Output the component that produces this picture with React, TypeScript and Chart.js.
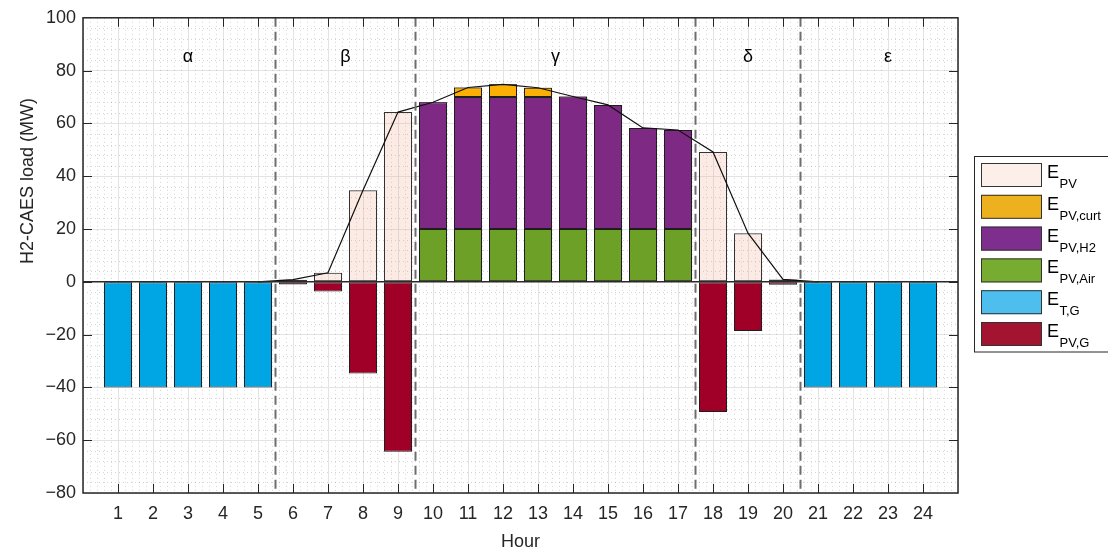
import React, { useEffect, useRef } from 'react';
import { Chart, registerables } from 'chart.js';

Chart.register(...registerables);

const FONT = '"Liberation Sans", Arial, Helvetica, sans-serif';
const TXT = '#262626';

const hours = [1, 2, 3, 4, 5, 6, 7, 8, 9, 10, 11, 12, 13, 14, 15, 16, 17, 18, 19, 20, 21, 22, 23, 24];

const ePV: (number | null)[] = [null, null, null, null, null, 0.8, 3.4, 34.7, 64.3, 68, 73.6, 74.8, 73.5, 70.2, 67, 58.3, 57.5, 49.2, 18.4, 0.9, null, null, null, null];
const ePVAir: (number | null)[] = [null, null, null, null, null, null, null, null, null, 20, 20, 20, 20, 20, 20, 20, 20, null, null, null, null, null, null, null];
const ePVH2: (number | null)[] = [null, null, null, null, null, null, null, null, null, 48, 50, 50, 50, 50.2, 47, 38.3, 37.5, null, null, null, null, null, null, null];
const ePVCurt: (number | null)[] = [null, null, null, null, null, null, null, null, null, null, 3.6, 4.8, 3.5, null, null, null, null, null, null, null, null, null, null, null];
const eTG: (number | null)[] = [-40, -40, -40, -40, -40, null, null, null, null, null, null, null, null, null, null, null, null, null, null, null, -40, -40, -40, -40];
const ePVG: (number | null)[] = [null, null, null, null, null, -1, -3.7, -34.7, -64.4, null, null, null, null, null, null, null, null, -49.3, -18.6, -1.1, null, null, null, null];
const pvCurve: (number | null)[] = [null, null, null, null, 0, 0.8, 3.4, 34.7, 64.3, 68, 73.6, 74.8, 73.5, 70.2, 67, 58.3, 57.5, 49.2, 18.4, 0.9, 0, null, null, null];

const yTicks = [-80, -60, -40, -20, 0, 20, 40, 60, 80, 100];
const sectionBounds = [5.5, 9.5, 17.5, 20.5];
const sectionLabels = ['α', 'β', 'γ', 'δ', 'ε'];
const sectionLabelX = [3, 7.5, 13.5, 19, 23];
const sectionLabelY = 85;

const legendItems = [
  { sub: 'PV', color: '#FCEEE8' },
  { sub: 'PV,curt', color: '#EDB120' },
  { sub: 'PV,H2', color: '#7E2F8E' },
  { sub: 'PV,Air', color: '#77AC30' },
  { sub: 'T,G', color: '#4DBEEE' },
  { sub: 'PV,G', color: '#A2142F' },
];

const xy = (arr: (number | null)[]) => arr.map((v, i) => ({ x: hours[i], y: v }));

const decor = {
  id: 'decor',
  beforeDatasetsDraw(chart: any) {
    const { ctx, chartArea: a, scales } = chart;
    const xs = scales.x, ys = scales.y;
    ctx.save();
    ctx.strokeStyle = 'rgba(0,0,0,0.17)';
    ctx.lineWidth = 1;
    ctx.setLineDash([1, 3]);
    for (let k = 0; k <= 125; k++) {
      if (k % 5 === 0) continue;
      const px = Math.round(xs.getPixelForValue(k / 5)) + 0.5;
      ctx.beginPath();
      ctx.moveTo(px, a.top);
      ctx.lineTo(px, a.bottom);
      ctx.stroke();
    }
    for (let v = -80; v <= 100; v += 4) {
      if (v % 20 === 0) continue;
      const py = Math.round(ys.getPixelForValue(v)) + 0.5;
      ctx.beginPath();
      ctx.moveTo(a.left, py);
      ctx.lineTo(a.right, py);
      ctx.stroke();
    }
    ctx.restore();
  },
  afterDatasetsDraw(chart: any) {
    const { ctx, chartArea: a, scales } = chart;
    const xs = scales.x, ys = scales.y;
    ctx.save();
    const y0 = ys.getPixelForValue(0);
    ctx.strokeStyle = '#2a2a2a';
    ctx.lineWidth = 1.5;
    ctx.beginPath();
    ctx.moveTo(a.left, y0);
    ctx.lineTo(a.right, y0);
    ctx.stroke();
    ctx.strokeStyle = '#6e6e6e';
    ctx.lineWidth = 2;
    ctx.setLineDash([9, 5]);
    sectionBounds.forEach((b) => {
      const px = xs.getPixelForValue(b);
      ctx.beginPath();
      ctx.moveTo(px, a.top);
      ctx.lineTo(px, a.bottom);
      ctx.stroke();
    });
    ctx.setLineDash([]);
    ctx.fillStyle = '#000';
    ctx.font = `18px ${FONT}`;
    ctx.textAlign = 'center';
    ctx.textBaseline = 'middle';
    sectionLabels.forEach((t, i) => {
      ctx.fillText(t, xs.getPixelForValue(sectionLabelX[i]), ys.getPixelForValue(sectionLabelY));
    });
    ctx.strokeStyle = '#262626';
    ctx.lineWidth = 1.5;
    ctx.strokeRect(a.left, a.top, a.right - a.left, a.bottom - a.top);
    ctx.lineWidth = 1;
    const tl = 9;
    hours.forEach((h) => {
      const px = Math.round(xs.getPixelForValue(h)) + 0.5;
      ctx.beginPath();
      ctx.moveTo(px, a.bottom);
      ctx.lineTo(px, a.bottom - tl);
      ctx.moveTo(px, a.top);
      ctx.lineTo(px, a.top + tl);
      ctx.stroke();
    });
    yTicks.forEach((v) => {
      if (v === -80 || v === 100) return;
      const py = Math.round(ys.getPixelForValue(v)) + 0.5;
      ctx.beginPath();
      ctx.moveTo(a.left, py);
      ctx.lineTo(a.left + tl, py);
      ctx.moveTo(a.right, py);
      ctx.lineTo(a.right - tl, py);
      ctx.stroke();
    });
    ctx.save();
    ctx.translate(28, 181);
    ctx.rotate(-Math.PI / 2);
    ctx.fillStyle = TXT;
    ctx.font = `18px ${FONT}`;
    ctx.textAlign = 'center';
    ctx.textBaseline = 'middle';
    ctx.fillText('H2-CAES load (MW)', 0, 0);
    ctx.restore();
    ctx.fillStyle = '#ffffff';
    ctx.fillRect(974.5, 156.5, 140, 195.5);
    ctx.strokeStyle = '#262626';
    ctx.lineWidth = 1;
    ctx.strokeRect(974.5, 156.5, 140, 195.5);
    legendItems.forEach((it, i) => {
      const top = 163 + i * 31.8;
      ctx.fillStyle = it.color;
      ctx.fillRect(981, top, 61, 24);
      ctx.strokeStyle = '#333';
      ctx.strokeRect(981.5, top + 0.5, 60, 23);
      ctx.fillStyle = '#000';
      ctx.textAlign = 'left';
      ctx.textBaseline = 'alphabetic';
      ctx.font = `18px ${FONT}`;
      ctx.fillText('E', 1047, top + 15);
      const w = ctx.measureText('E').width;
      ctx.font = `13px ${FONT}`;
      ctx.fillText(it.sub, 1047 + w + 0.5, top + 25);
    });
    ctx.restore();
  },
};

export default function App() {
  const ref = useRef<HTMLCanvasElement | null>(null);
  useEffect(() => {
    if (!ref.current) return;
    const barBase = {
      type: 'bar' as const,
      grouped: false,
      barPercentage: 0.8,
      categoryPercentage: 1,
      borderWidth: 1,
      borderColor: '#1e1e1e',
      borderSkipped: false,
    };
    const chart = new Chart(ref.current, {
      type: 'bar',
      data: {
        datasets: [
          {
            type: 'line',
            label: 'PV curve',
            data: xy(pvCurve),
            borderColor: '#111',
            borderWidth: 1.2,
            pointRadius: 0,
            fill: false,
            tension: 0,
            stack: 'line',
            order: 0,
          } as any,
          { ...barBase, label: 'E_PV', data: xy(ePV), backgroundColor: 'rgba(240,160,130,0.22)', borderColor: '#333', stack: 'pv', order: 2 },
          { ...barBase, label: 'E_PV,Air', data: xy(ePVAir), backgroundColor: '#6CA026', stack: 'main', order: 1 },
          { ...barBase, label: 'E_PV,H2', data: xy(ePVH2), backgroundColor: '#7E2A84', stack: 'main', order: 1 },
          { ...barBase, label: 'E_PV,curt', data: xy(ePVCurt), backgroundColor: '#FDB004', stack: 'main', order: 1 },
          { ...barBase, label: 'E_T,G', data: xy(eTG), backgroundColor: '#00A5E3', stack: 'main', order: 1 },
          { ...barBase, label: 'E_PV,G', data: xy(ePVG), backgroundColor: '#A00028', stack: 'main', order: 1 },
        ] as any,
      },
      options: {
        responsive: false,
        animation: false,
        devicePixelRatio: 1,
        layout: { padding: { left: 0, right: 150, top: 17, bottom: 0 } },
        plugins: { legend: { display: false }, tooltip: { enabled: false } },
        scales: {
          x: {
            type: 'linear',
            min: 0,
            max: 25,
            offset: false,
            grid: { color: '#e3e3e3', drawTicks: false, offset: false },
            border: { display: false },
            ticks: {
              stepSize: 1,
              autoSkip: false,
              maxRotation: 0,
              color: TXT,
              font: { family: FONT, size: 18 },
              padding: 10,
              callback: (v: any) => (v >= 1 && v <= 24 ? String(v) : ''),
            },
            title: { display: true, text: 'Hour', color: TXT, font: { family: FONT, size: 18 }, padding: { top: 4, bottom: 0 } },
            afterFit: (s: any) => { s.height = 60; },
          },
          y: {
            type: 'linear',
            min: -80,
            max: 100,
            stacked: true,
            grid: { color: (c: any) => (c.tick && c.tick.value === 0 ? 'rgba(0,0,0,0)' : '#e3e3e3'), drawTicks: false },
            border: { display: false },
            ticks: {
              stepSize: 20,
              color: TXT,
              font: { family: FONT, size: 18 },
              padding: 7,
              callback: (v: any) => (v < 0 ? '\u2212' + String(-v) : String(v)),
            },
            afterFit: (s: any) => { s.width = 83; },
          },
        },
      } as any,
      plugins: [decor],
    });
    return () => chart.destroy();
  }, []);
  return (
    <div style={{ position: 'fixed', left: 0, top: 0, width: 1108, height: 553, background: '#fff' }}>
      <canvas ref={ref} width={1108} height={553} style={{ display: 'block' }} />
    </div>
  );
}
